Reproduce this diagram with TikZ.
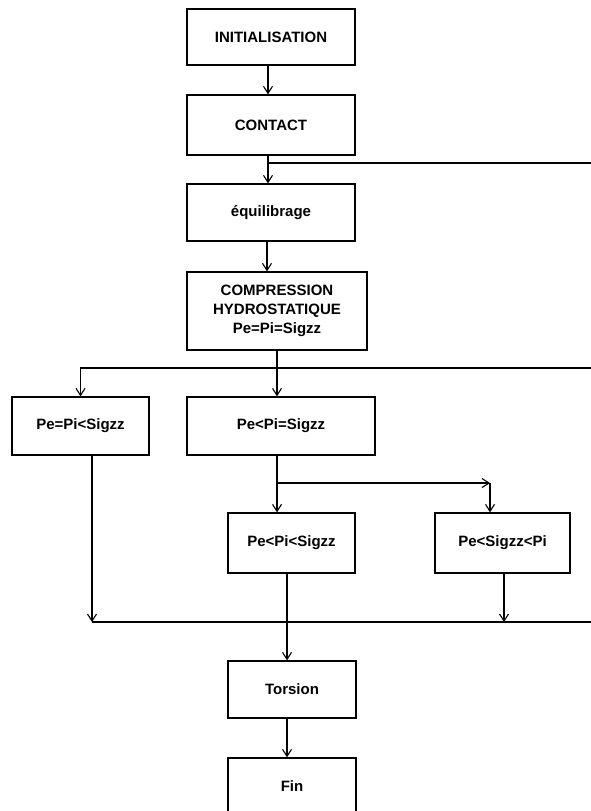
\documentclass[tikz,border=0pt]{standalone}
\usepackage{fontspec}
\setmainfont{Liberation Sans}
\usetikzlibrary{arrows.meta}

\begin{document}
\begin{tikzpicture}[x=1pt, y=-1pt, line width=1.2pt,
    box/.style={draw, line width=1.3pt, inner sep=0pt, align=center,
        font=\bfseries\fontsize{15}{19}\selectfont},
    arr/.style={-{Straight Barb[length=7pt,width=9pt,line width=1.1pt]}}]
    \useasboundingbox (0,0) rectangle (591,811);

    % Boxes of the main column
    \node[box, minimum width=168pt, minimum height=56pt] (init) at (271,37) {INITIALISATION};
    \node[box, minimum width=168pt, minimum height=60pt] (contact) at (271,125) {CONTACT};
    \node[box, minimum width=168pt, minimum height=57pt] (equi) at (271,212.5) {équilibrage};
    \node[box, minimum width=180pt, minimum height=78pt] (comp) at (277,311)
        {COMPRESSION\\HYDROSTATIQUE\\Pe=Pi=Sigzz};

    % Boxes of the loading cases
    \node[box, minimum width=137pt, minimum height=58pt] (eqA) at (80.5,426) {Pe=Pi<Sigzz};
    \node[box, minimum width=188pt, minimum height=58pt] (eqB) at (281,426) {Pe<Pi=Sigzz};
    \node[box, minimum width=127pt, minimum height=60pt] (ltC) at (291.5,543) {Pe<Pi<Sigzz};
    \node[box, minimum width=135pt, minimum height=60pt] (ltD) at (502.5,543) {Pe<Sigzz<Pi};

    % Boxes at the end
    \node[box, minimum width=128pt, minimum height=57pt] (tors) at (292,689.5) {Torsion};
    \node[box, minimum width=128pt, minimum height=57pt] (fin) at (292,786.5) {Fin};

    % Free ends at the right edge
    \coordinate (outA) at (591,163);
    \coordinate (outB) at (591,368);
    \coordinate (outC) at (591,622);
    \coordinate (turnD) at (490,483);

    % Main column
    \draw[arr] ([xshift=-3pt]init.south) -- ([xshift=-3pt]contact.north);
    \draw[arr] ([xshift=-3pt]contact.south) -- ([xshift=-3pt]equi.north);
    \draw ([xshift=-3pt]contact.south) |- (outA);
    \draw[arr] ([xshift=-4pt]equi.south) -- ([xshift=-4pt]equi.north |- comp.north);
    \draw[arr] (comp.south) -- (comp.south |- eqB.north);
    \draw[arr] (outB) -| (eqA.north);

    % Split after Pe<Pi=Sigzz
    \draw[arr] (comp.south |- eqB.south) -- (comp.south |- ltC.north);
    \draw[arr] (comp.south |- turnD) -- (turnD);
    \draw[arr] (turnD) -- (turnD |- ltD.north);

    % Gathering line
    \draw[arr] ([xshift=11.5pt]eqA.south) -- ([xshift=11.5pt]eqA.south |- outC);
    \draw ([xshift=11.5pt]eqA.south |- outC) -- (outC);
    \draw[arr] ([xshift=1.5pt]ltD.south) -- ([xshift=1.5pt]ltD.south |- outC);
    \draw[arr] ([xshift=-4.5pt]ltC.south) -- ([xshift=-4.5pt]ltC.south |- tors.north);
    \draw[arr] ([xshift=-5pt]tors.south) -- ([xshift=-5pt]fin.north);
\end{tikzpicture}
\end{document}
